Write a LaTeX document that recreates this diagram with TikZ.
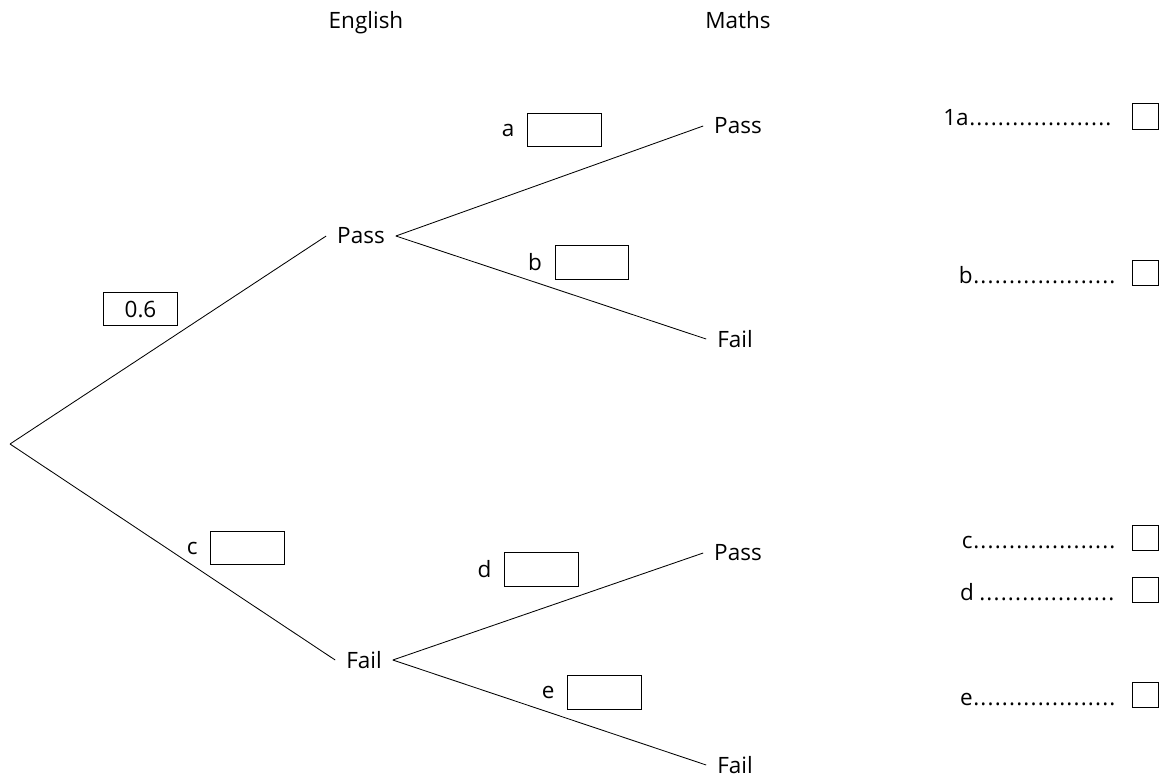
\documentclass[tikz,border=0pt]{standalone}
\usepackage{fontspec}
\setmainfont{Open Sans}
\usetikzlibrary{positioning}
\newcommand\answerdots[1]{\makebox[#1]{\leaders\hbox to 5.1pt{\hss.\hss}\hfill}}

\begin{document}
\begin{tikzpicture}[
    x=0.025cm, y=-0.025cm,
    every node/.style={font=\fontsize{16}{19}\selectfont},
    branch/.style={line width=0.6pt},
    leaf/.style={inner xsep=0.27cm, inner ysep=0pt},
    probbox/.style={draw, line width=0.6pt, minimum width=1.83cm, minimum height=0.83cm, inner sep=0pt},
    tick/.style={draw, line width=0.6pt, minimum size=0.64cm, inner sep=0pt},
    answer/.style={anchor=east, inner sep=0pt}
]
    \useasboundingbox (0,0) rectangle (1165,778);

    % headings
    \node[anchor=base] (hEng) at (366,28) {English};
    \node[anchor=base] (hMat) at (738,28) {Maths};

    % English branches
    \coordinate (R) at (10,444);
    \node[leaf] (EP) at (361,236) {Pass};
    \node[leaf] (EF) at (364,660) {Fail};
    \draw[branch] (R) -- (EP.west);
    \draw[branch] (R) -- (EF.west);

    % Maths branches
    \node[leaf] (PP) at (738,126) {Pass};
    \node[leaf] (PF) at (735,339) {Fail};
    \node[leaf] (FP) at (738,553) {Pass};
    \node[leaf] (FF) at (735,765) {Fail};
    \draw[branch] (EP.east) -- (PP.west);
    \draw[branch] (EP.east) -- (PF.west);
    \draw[branch] (EF.east) -- (FP.west);
    \draw[branch] (EF.east) -- (FF.west);

    % probability boxes
    \node[probbox] (B06) at (140.5,309) {0.6};
    \node[probbox, label={[label distance=0.2cm]left:a}] (Ba) at (564.5,130) {};
    \node[probbox, label={[label distance=0.2cm]left:b}] (Bb) at (592,262.5) {};
    \node[probbox, label={[label distance=0.2cm]left:c}] (Bc) at (247.5,548) {};
    \node[probbox, label={[label distance=0.2cm]left:d}] (Bd) at (541.5,569.5) {};
    \node[probbox, label={[label distance=0.2cm]left:e}] (Be) at (604.5,692.5) {};

    % answer lines
    \node[answer] (Aa) at (1119,118) {1a\answerdots{3.75cm}};
    \node[answer] (Ab) at (1119,275) {b\answerdots{3.65cm}};
    \node[answer] (Ac) at (1119,543) {c\answerdots{3.65cm}};
    \node[answer] (Ad) at (1119,592) {d\hspace{0.12cm}\answerdots{3.5cm}};
    \node[answer] (Ae) at (1119,700) {e\answerdots{3.65cm}};
    \node[tick] (Ta) at (1145.5,116.5) {};
    \node[tick] (Tb) at (1145.5,273) {};
    \node[tick] (Tc) at (1145.5,538) {};
    \node[tick] (Td) at (1145.5,590) {};
    \node[tick] (Te) at (1145.5,695) {};
\end{tikzpicture}
\end{document}
